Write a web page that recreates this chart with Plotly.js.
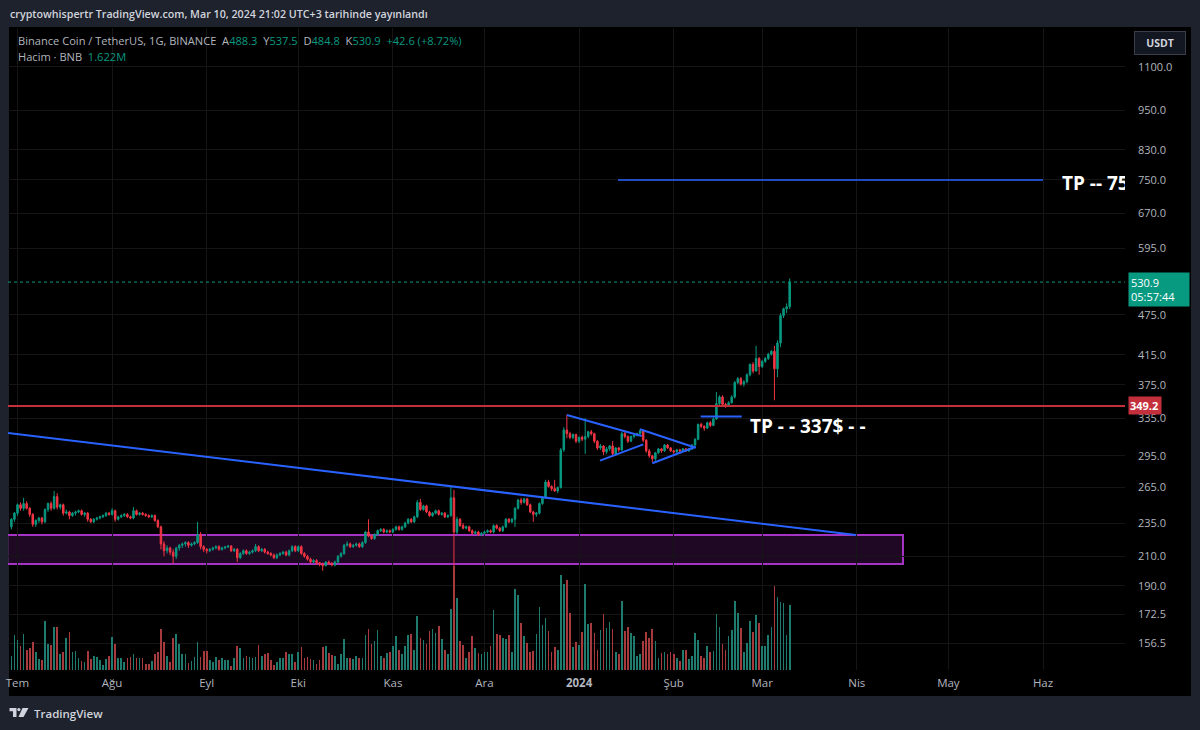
<!DOCTYPE html>
<html>
<head>
<meta charset="utf-8">
<script src="https://cdn.plot.ly/plotly-3.0.1.min.js"></script>
<style>
  html, body { margin: 0; padding: 0; background: #1e222d; }
  #chart { width: 1200px; height: 730px; }
</style>
</head>
<body>
<div id="chart"></div>
<script>
// BNB/USDT daily candles, 29 Jun 2023 - 10 Mar 2024
const firstDay = '2023-06-29';

const open = [
  232,238,243,250,247,251,247,242,234,237,
  239,236,246,251,247,257,248,250,243,244,
  241,243,244,245,242,243,238,236,238,239,
  240,241,243,242,245,238,240,241,242,240,
  239,245,242,243,242,241,240,241,237,232,
  219,214,216,213,210,216,218,219,220,218,
  219,220,226,217,215,214,215,216,217,215,
  216,216.8,217.5,214,215,209,212,214,212,213,
  214,217,214,215,213,212,211,209,211,212,
  213,211,214,217,214,217,212,210,208,206,
  207,205.5,204.5,203.5,206,205,204,206,210,212,
  218,219,217,218,219,217,220,228,225,223,
  226,229,230,228,229,228,230,232,230,232,
  235,238,236,240,252,246,249,244,241,243,
  245,242,243,240,241,256,228,238,233,231,
  232,229,227,228,226,227,228,229,228,233,
  231,229,232,238,236,238,247,254,252,255,
  250,244,242,243,251,256,270,266,264,262,
  265,301,322,318,314,317,310,314,312,315,
  320,318,310,303,305,299,302,305,297,303,
  301,318,315,310,315,316,318,321,311,300,
  295,292,298,302,300,306,303,300,299,301,
  300,302,300,302,306,312,328,326,324,330,
  327,334,352,360,351,350,353,360,378,383,
  376,379,388,402,393,410,399,406,410,416,
  420,396,432,474,485,488.3
];
const high = [
  239,244,251,252,256,253,248,243,238,240,
  240,247,252,253,262,260,251,251,246,245,
  244,245,246,246,244,244,239,239,240,241,
  242,244,244,247,246,241,242,243,243,241,
  248,246,244,244,243,242,242,242,238,233,
  221,218,217,215,217,219,220,221,221,220,
  221,236,228,218,216,216,217,218,218,217,
  217.5,218,218,216,216,213,215,215,214,215,
  219,218,216,216,214,213,212,212,213,214,
  214,215,218,218,218,218,213,211,209,208,
  208,206,205.5,206.5,207,206,207,211,213,219,
  221,220,219,220,220,221,229,238,226,227,
  230,231,231,230,230,231,233,233,233,236,
  239,239,241,254,255,250,250,245,244,246,
  246,244,244,242,266,263,240,239,235,233,
  233,230,229,229,228,229,230,230,234,234,
  232,233,239,239,239,248,255,256,256,256,
  251,245,244,252,257,272,272,267,272,266,
  303,325,339,320,318,318,315,316,335,321,
  322,319,311,307,306,304,306,310,304,304,
  320,320,316,316,317,319,323,322,312,302,
  296,299,303,303,307,307,304,301,302,302,
  303,303,303,307,313,329,330,327,331,332,
  336,366,362,362,353,355,362,380,385,385,
  381,390,403,405,428,412,408,412,418,422,
  428,436,478,487,494,537.5
];
const low = [
  230,236,241,245,245,246,240,232,232,235,
  234,235,244,245,246,246,246,241,242,238,
  240,241,243,241,240,236,235,235,237,238,
  239,240,241,241,236,237,239,240,239,238,
  238,241,241,241,240,239,239,236,231,215,
  210,212,211,205,208,214,216,217,216,217,
  218,219,215,213,212,213,214,215,214,214,
  215,216,213,213,206,208,211,211,211,212,
  213,213,213,212,211,210,208,208,210,211,
  210,210,213,213,213,211,209,207,205,205,
  204,203,200,203,204,203,203,205,209,211,
  217,216,216,217,216,216,219,224,222,222,
  225,228,227,227,227,227,229,229,229,231,
  234,235,235,239,245,245,243,240,240,242,
  241,241,239,239,240,198,226,232,230,230,
  228,226,226,225,225,226,227,227,227,230,
  228,228,231,235,235,232,246,250,251,249,
  243,236,240,242,250,255,265,262,261,260,
  264,299,313,312,312,308,308,310,297,313,
  316,308,301,301,296,297,300,294,295,299,
  300,313,308,309,313,315,317,309,298,293,
  289,290,297,298,299,302,299,297,298,298,
  299,299,299,301,305,311,324,321,323,325,
  326,333,349,349,347,348,352,358,376,374,
  373,377,386,390,392,388,397,404,408,414,
  356,385,426,470,478,484.8
];
const close = [
  238,243,250,247,251,247,242,234,237,239,
  236,246,251,247,257,248,250,243,244,241,
  243,244,245,242,243,238,236,238,239,240,
  241,243,242,245,238,240,241,242,240,239,
  245,242,243,242,241,240,241,237,232,219,
  214,216,213,210,216,218,219,220,218,219,
  220,226,217,215,214,215,216,217,215,216,
  216.8,217.5,214,215,209,212,214,212,213,214,
  217,214,215,213,212,211,209,211,212,213,
  211,214,217,214,217,212,210,208,206,207,
  205.5,204.5,203.5,206,205,204,206,210,212,218,
  219,217,218,219,217,220,228,225,223,226,
  229,230,228,229,228,230,232,230,232,235,
  238,236,240,252,246,249,244,241,243,245,
  242,243,240,241,256,228,238,233,231,232,
  229,227,228,226,227,228,229,228,233,231,
  229,232,238,236,238,247,254,252,255,250,
  244,242,243,251,256,270,266,264,262,265,
  301,322,318,314,317,310,314,312,315,320,
  318,310,303,305,299,302,305,297,303,301,
  318,315,310,315,316,318,321,311,300,295,
  292,298,302,300,306,303,300,299,301,300,
  302,300,302,306,312,328,326,324,330,327,
  334,352,360,351,350,353,360,378,383,376,
  379,388,402,393,410,399,406,410,416,420,
  396,432,474,485,488.3,530.9
];
// daily volume, millions of BNB
const volume = [
  0.36,0.87,0.74,0.61,0.89,0.51,0.54,0.69,0.45,0.28,
  0.25,1.22,0.66,0.62,1.06,1.08,0.40,0.45,0.79,0.95,
  0.45,0.47,0.30,0.22,0.19,0.47,0.28,0.34,0.32,0.25,
  0.12,0.28,0.34,0.82,0.64,0.30,0.29,0.19,0.30,0.32,
  0.39,0.29,0.29,0.29,0.14,0.14,0.22,0.40,0.45,1.03,
  0.70,0.34,0.21,0.79,0.89,0.66,0.39,0.39,0.17,0.22,
  0.32,0.69,0.32,0.47,0.47,0.24,0.19,0.32,0.25,0.31,
  0.25,0.25,0.09,0.29,0.61,0.54,0.30,0.35,0.32,0.31,
  0.33,0.62,0.35,0.39,0.42,0.25,0.13,0.19,0.30,0.30,
  0.44,0.40,0.39,0.19,0.44,0.57,0.30,0.32,0.28,0.25,
  0.14,0.24,0.57,0.59,0.42,0.37,0.34,0.15,0.39,0.78,
  0.30,0.29,0.28,0.35,0.30,0.30,0.86,1.01,0.64,0.73,
  0.99,0.36,0.29,0.42,0.46,0.59,0.85,0.51,0.40,0.61,
  0.86,0.89,0.50,1.35,0.81,0.76,0.64,0.97,1.01,0.93,
  1.09,0.77,0.49,0.39,1.53,2.60,1.79,0.73,0.62,0.30,
  0.45,0.84,0.56,0.42,0.39,0.45,0.46,0.59,1.50,0.89,
  0.87,0.79,0.77,0.87,0.45,2.02,1.88,1.16,0.84,0.67,
  0.45,0.47,0.89,1.57,1.12,1.30,0.97,0.44,0.57,0.49,
  2.36,2.14,2.25,1.43,0.58,0.69,0.62,0.95,2.15,1.14,
  1.18,0.93,0.51,0.99,1.40,1.04,1.19,1.01,0.45,0.40,
  1.71,0.97,1.08,0.93,0.84,0.34,0.39,0.72,0.94,0.81,
  1.02,0.73,0.30,0.43,0.45,0.40,0.46,0.39,0.30,0.22,
  0.51,0.49,0.28,0.36,0.93,0.76,0.34,0.30,0.61,0.45,
  0.47,1.39,1.08,0.65,0.51,0.84,0.99,1.71,1.43,1.04,
  0.45,0.67,1.21,0.94,1.37,1.18,0.60,0.60,0.87,1.06,
  2.09,1.82,1.69,1.67,0.87,1.622
];

// time axis labels (Turkish month names)
const monthTicks = ['2023-07-01','2023-08-01','2023-09-01','2023-10-01','2023-11-01','2023-12-01',
                    '2024-01-01','2024-02-01','2024-03-01','2024-04-01','2024-05-01','2024-06-01'];
const monthLabels = ['Tem','Ağu','Eyl','Eki','Kas','Ara','<b>2024</b>','Şub','Mar','Nis','May','Haz'];

// price scale labels
const priceTicks = [156.5,172.5,190,210,235,265,295,335,375,415,475,595,670,750,830,950,1100];

// drawn levels and lines
const supportLevel = 349.2;
const targetLow = 337;
const targetHigh = 750;
const zoneTop = 225.7, zoneBottom = 204.6;
const trendLine = [['2023-06-27 21:18', 318.7], ['2024-03-31 18:00', 225.7]];
const flag1Top = [['2023-12-28 00:00', 338.7], ['2024-01-21 12:30', 315.5]];
const flag1Bottom = [['2024-01-07 20:30', 290.2], ['2024-01-22 01:00', 306.7]];
const flag2Top = [['2024-01-20 23:00', 322.7], ['2024-02-08 05:00', 303.2]];
const flag2Bottom = [['2024-01-24 23:40', 287.7], ['2024-02-08 05:00', 304.2]];
const targetLowSpan = ['2024-02-09 20:20', '2024-02-23 07:00'];
const targetHighSpan = ['2024-01-13 18:00', '2024-06-01 00:00'];
const zoneSpan = ['2023-06-01', '2024-04-16 03:00'];

// ---- build ----
const days = close.map((_, i) => {
  const d = new Date(firstDay + 'T00:00:00Z');
  d.setUTCDate(d.getUTCDate() + i);
  return d.toISOString().slice(0, 10);
});
const last = close.length - 1;
const UP = '#089981', DOWN = '#f23645';
const volColors = close.map((c, i) => c >= open[i] ? '#1e7b6e' : '#a73a3c');

// pixel frame of the plot area
const L = 8, R = 1125, T = 28, B = 670;
const px = x => (x - L) / (R - L);
const py = y => (B - y) / (B - T);

const FONT = 'Open Sans, Noto Sans, sans-serif';
const blue = '#2962ff';

function seg(pts, color, width) {
  return { type: 'line', xref: 'x', yref: 'y', x0: pts[0][0], y0: pts[0][1], x1: pts[1][0], y1: pts[1][1],
           line: { color: color, width: width }, layer: 'above' };
}

const traces = [
  {
    type: 'bar', x: days, y: volume, yaxis: 'y2',
    marker: { color: volColors, line: { width: 0 } },
    width: 0.55 * 86400000, hoverinfo: 'skip'
  },
  {
    type: 'candlestick', x: days, open: open, high: high, low: low, close: close,
    increasing: { line: { color: UP, width: 1 }, fillcolor: UP },
    decreasing: { line: { color: DOWN, width: 1 }, fillcolor: DOWN },
    whiskerwidth: 0, hoverinfo: 'skip'
  },
  {
    type: 'scatter', mode: 'text', x: ['2024-06-07 05:00'], y: [737],
    text: ['TP -- ' + targetHigh], textposition: 'middle right', cliponaxis: true,
    textfont: { family: FONT, size: 19, color: '#ffffff', weight: 700 }, hoverinfo: 'skip'
  }
];

// TradingView logo pieces in pixel space
function pathFromPx(pts) {
  return 'M' + pts.map(p => px(p[0]).toFixed(5) + ',' + py(p[1]).toFixed(5)).join(' L') + ' Z';
}

const shapes = [
  // black chart pane
  { type: 'rect', xref: 'paper', yref: 'paper', x0: px(9), x1: px(1191), y0: py(696), y1: py(27),
    fillcolor: '#000000', line: { width: 0 }, layer: 'below' },
  // demand zone
  { type: 'rect', xref: 'x', yref: 'y', x0: zoneSpan[0], x1: zoneSpan[1], y0: zoneBottom, y1: zoneTop,
    fillcolor: 'rgba(156,39,176,0.2)', line: { color: '#a533c4', width: 2 }, layer: 'below' },
  // horizontal level
  { type: 'line', xref: 'paper', yref: 'y', x0: 0, x1: 1, y0: supportLevel, y1: supportLevel,
    line: { color: '#c3303c', width: 2 }, layer: 'above' },
  // last price line
  { type: 'line', xref: 'paper', yref: 'y', x0: 0, x1: 1, y0: close[last], y1: close[last],
    line: { color: UP, width: 1, dash: 'dot' }, layer: 'above' },
  seg(trendLine, blue, 2),
  seg(flag1Top, blue, 2), seg(flag1Bottom, blue, 2),
  seg(flag2Top, blue, 2), seg(flag2Bottom, blue, 2),
  seg([[targetLowSpan[0], targetLow], [targetLowSpan[1], targetLow]], blue, 2),
  seg([[targetHighSpan[0], targetHigh], [targetHighSpan[1], targetHigh]], blue, 1.5),
  // logo
  { type: 'path', xref: 'paper', yref: 'paper', layer: 'above', fillcolor: '#d1d4dc', line: { width: 0 },
    path: pathFromPx([[9.5,708],[16.5,708],[16.5,717],[13,717],[13,711.3],[9.5,711.3]]) },
  { type: 'circle', xref: 'paper', yref: 'paper', layer: 'above', fillcolor: '#d1d4dc', line: { width: 0 },
    x0: px(17.3), x1: px(20.5), y0: py(711.2), y1: py(708) },
  { type: 'path', xref: 'paper', yref: 'paper', layer: 'above', fillcolor: '#d1d4dc', line: { width: 0 },
    path: pathFromPx([[22.5,708],[28.5,708],[23.5,717],[18.5,717]]) }
];

const G = '#089981';
const annotations = [
  { xref: 'paper', yref: 'paper', x: px(8), y: py(14), xanchor: 'left', yanchor: 'middle', showarrow: false,
    text: 'cryptowhispertr TradingView.com, Mar 10, 2024 21:02 UTC+3 tarihinde yayınlandı',
    font: { family: FONT, size: 10.7, color: '#d1d4dc', weight: 600 } },
  { xref: 'paper', yref: 'paper', x: px(16), y: py(40), xanchor: 'left', yanchor: 'middle', showarrow: false,
    text: 'Binance Coin / TetherUS, 1G, BINANCE&nbsp;&nbsp;A<span style="color:' + G + '">' + open[last] +
          '</span>&nbsp;&nbsp;Y<span style="color:' + G + '">' + high[last] +
          '</span>&nbsp;&nbsp;D<span style="color:' + G + '">' + low[last] +
          '</span>&nbsp;&nbsp;K<span style="color:' + G + '">' + close[last] +
          '</span>&nbsp;&nbsp;<span style="color:' + G + '">+' + (close[last] - close[last - 1]).toFixed(1) +
          ' (+' + ((close[last] / close[last - 1] - 1) * 100).toFixed(2) + '%)</span>',
    font: { family: FONT, size: 11.1, color: '#b2b5be' } },
  { xref: 'paper', yref: 'paper', x: px(16), y: py(56), xanchor: 'left', yanchor: 'middle', showarrow: false,
    text: 'Hacim · BNB&nbsp;&nbsp;<span style="color:' + G + '">' + volume[last].toFixed(3) + 'M</span>',
    font: { family: FONT, size: 11.1, color: '#b2b5be' } },
  { xref: 'x', yref: 'y', x: '2024-02-25 08:00', y: Math.log10(326.4), xanchor: 'left', yanchor: 'middle',
    showarrow: false, text: 'TP - - ' + targetLow + '$ - -',
    font: { family: FONT, size: 19, color: '#ffffff', weight: 700 } },
  // price scale badges
  { xref: 'paper', yref: 'y', x: px(1128), y: Math.log10(supportLevel), xanchor: 'left', yanchor: 'middle',
    showarrow: false, text: '<b>' + supportLevel.toFixed(1) + '</b>', bgcolor: '#c3303c', borderpad: 1,
    width: 30, align: 'left', font: { family: FONT, size: 11, color: '#ffffff' } },
  { xref: 'paper', yref: 'y', x: px(1128), y: Math.log10(close[last]), yshift: -7, xanchor: 'left', yanchor: 'middle',
    showarrow: false, text: close[last].toFixed(1) + '<br>05:57:44', bgcolor: UP, borderpad: 2,
    width: 56, align: 'left', font: { family: FONT, size: 11, color: '#ffffff' } },
  { xref: 'paper', yref: 'paper', x: px(1160), y: py(43), xanchor: 'center', yanchor: 'middle',
    showarrow: false, text: '<b>USDT</b>', bgcolor: '#131722', bordercolor: '#3a3e4a', borderwidth: 1,
    width: 48, height: 20, font: { family: FONT, size: 10.5, color: '#d1d4dc' } },
  { xref: 'paper', yref: 'paper', x: px(32), y: py(713), xanchor: 'left', yanchor: 'middle',
    showarrow: false, text: 'TradingView', font: { family: FONT, size: 11.5, color: '#d1d4dc', weight: 600 } }
];

const layout = {
  width: 1200, height: 730,
  margin: { l: L, r: 1200 - R, t: T, b: 730 - B, pad: 0 },
  paper_bgcolor: '#1e222d', plot_bgcolor: 'rgba(0,0,0,0)',
  showlegend: false, dragmode: false,
  font: { family: FONT, color: '#b2b5be' },
  xaxis: {
    type: 'date', range: ['2023-06-27 21:18', '2024-06-27 20:50'],
    tickvals: monthTicks, ticktext: monthLabels, tickfont: { size: 11.5, color: '#b2b5be' },
    showgrid: true, gridcolor: '#151515', gridwidth: 1, zeroline: false, showline: false,
    ticks: '', ticklabelstandoff: 4, rangeslider: { visible: false }, fixedrange: true
  },
  yaxis: {
    type: 'log', side: 'right',
    range: [Math.log10(142.97), Math.log10(1253.8)],
    tickvals: priceTicks, ticktext: priceTicks.map(v => v.toFixed(1)),
    tickfont: { size: 11, color: '#b2b5be' },
    showgrid: true, gridcolor: '#151515', gridwidth: 1, zeroline: false, showline: false,
    ticks: '', ticklabelstandoff: 12, fixedrange: true
  },
  yaxis2: {
    overlaying: 'y', side: 'left', range: [0, 16.0], visible: false, showgrid: false, fixedrange: true
  },
  bargap: 0,
  shapes: shapes,
  annotations: annotations
};

Plotly.newPlot('chart', traces, layout, { staticPlot: true, displayModeBar: false });
</script>
</body>
</html>
